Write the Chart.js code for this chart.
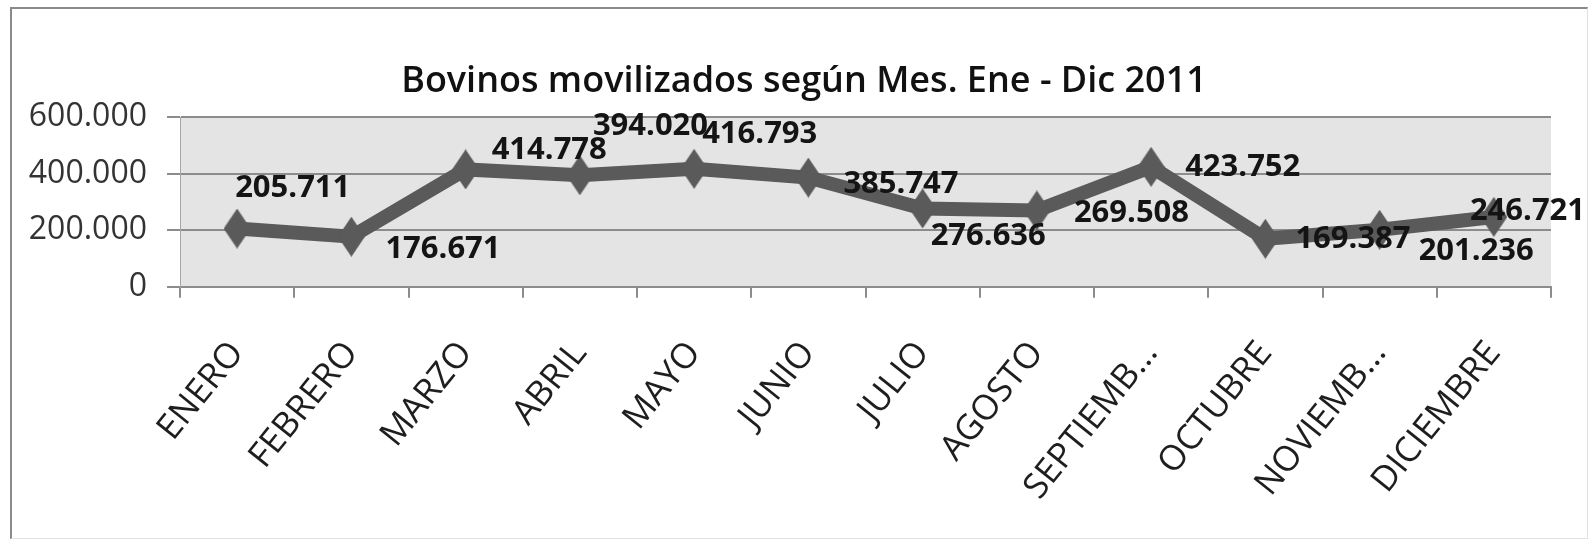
<!DOCTYPE html>
<html lang="es">
<head>
<meta charset="utf-8">
<title>Bovinos movilizados 2011</title>
<script src="https://cdn.jsdelivr.net/npm/chart.js@4/dist/chart.umd.min.js"></script>
<style>
  html, body { margin:0; padding:0; background:#fff; }
  .wrap { position:relative; width:1590px; height:540px; }
  .frame { position:absolute; left:10px; top:7px; width:1575px; height:529px;
    border-left:2px solid #8a8a8a; border-top:2px solid #8a8a8a;
    border-right:1px solid #e2e2e2; border-bottom:1px solid #e2e2e2; pointer-events:none; }
</style>
</head>
<body>
<div class="wrap">
  <canvas id="chart" width="1590" height="540"></canvas>
  <div class="frame"></div>
</div>
<script>
// --- data ---
const MONTHS = ['ENERO','FEBRERO','MARZO','ABRIL','MAYO','JUNIO','JULIO','AGOSTO','SEPTIEMB...','OCTUBRE','NOVIEMB...','DICIEMBRE'];
const BOVINOS = [205711,176671,414778,394020,416793,385747,276636,269508,423752,169387,201236,246721];
const Y_TICKS = [0,200000,400000,600000];
const TITLE = 'Bovinos movilizados según Mes. Ene - Dic 2011';

// where each data label sits relative to its point (px)
const LABEL_DX = [-2,34,26,13,8,35,8,37,34,30,39,-24];
const LABEL_DY = [-40,12,-19,-49,-35,7,28,3,0,0,21,-6];

const fmt = v => String(v).replace(/\B(?=(\d{3})+(?!\d))/g, '.');

// tall diamond marker like the Excel one
function diamond(w, h, color) {
  const c = document.createElement('canvas');
  c.width = w; c.height = h;
  const g = c.getContext('2d');
  g.fillStyle = color;
  g.beginPath();
  g.moveTo(w/2, 0); g.lineTo(w, h/2); g.lineTo(w/2, h); g.lineTo(0, h/2);
  g.closePath(); g.fill();
  return c;
}

const plotBg = {
  id:'plotBg',
  beforeDraw(chart) {
    const { ctx, chartArea:a } = chart;
    ctx.save();
    ctx.fillStyle = '#e4e4e4';
    ctx.fillRect(a.left, a.top, a.right - a.left, a.bottom - a.top);
    ctx.restore();
  }
};

// title sits a bit right of the canvas centre in the original
const chartTitle = {
  id:'chartTitle',
  afterDraw(chart) {
    const { ctx } = chart;
    ctx.save();
    ctx.font = '600 36px "Open Sans", sans-serif';
    ctx.fillStyle = '#111';
    ctx.textAlign = 'center';
    ctx.textBaseline = 'alphabetic';
    ctx.fillText(TITLE, 804, 92);
    ctx.restore();
  }
};

const valueLabels = {
  id:'valueLabels',
  afterDatasetsDraw(chart) {
    const { ctx } = chart;
    const pts = chart.getDatasetMeta(0).data;
    ctx.save();
    ctx.font = 'bold 31px "Open Sans", sans-serif';
    ctx.fillStyle = '#141414';
    ctx.textAlign = 'left';
    ctx.textBaseline = 'middle';
    pts.forEach((p, i) => {
      ctx.fillText(fmt(BOVINOS[i]), p.x + LABEL_DX[i], p.y + LABEL_DY[i]);
    });
    ctx.restore();
  }
};

Chart.defaults.font.family = '"Open Sans", sans-serif';

new Chart(document.getElementById('chart').getContext('2d'), {
  type:'line',
  data:{
    labels: MONTHS,
    datasets:[{
      data: BOVINOS,
      borderColor:'#5a5a5a',
      borderWidth:14,
      pointStyle: diamond(27, 40, '#5a5a5a'),
      pointRadius:14,
      tension:0
    }]
  },
  options:{
    responsive:false,
    animation:false,
    layout:{ padding:{ left:0, right:39, top:117, bottom:0 } },
    plugins:{
      legend:{ display:false },
      tooltip:{ enabled:false },
      title:{ display:false }
    },
    scales:{
      x:{
        offset:true,
        grid:{ offset:true, drawOnChartArea:false, color:'#8c8c8c', lineWidth:2, tickLength:11 },
        border:{ color:'#8c8c8c', width:2 },
        ticks:{ color:'#1e1e1e', font:{ size:35 }, minRotation:51, maxRotation:51, padding:36, autoSkip:false },
        afterFit(s) { s.height = 540 - 286.7; }
      },
      y:{
        min:0, max:600000,
        afterBuildTicks(s) { s.ticks = Y_TICKS.map(v => ({ value:v })); },
        grid:{ color:'#8c8c8c', lineWidth:2, tickLength:13 },
        border:{ color:'#a6a6a6', width:1 },
        ticks:{ color:'#333', font:{ size:32 }, padding:20, callback:v => fmt(v) },
        afterFit(s) { s.width = 180; }
      }
    }
  },
  plugins:[plotBg, valueLabels, chartTitle]
});
</script>
</body>
</html>
